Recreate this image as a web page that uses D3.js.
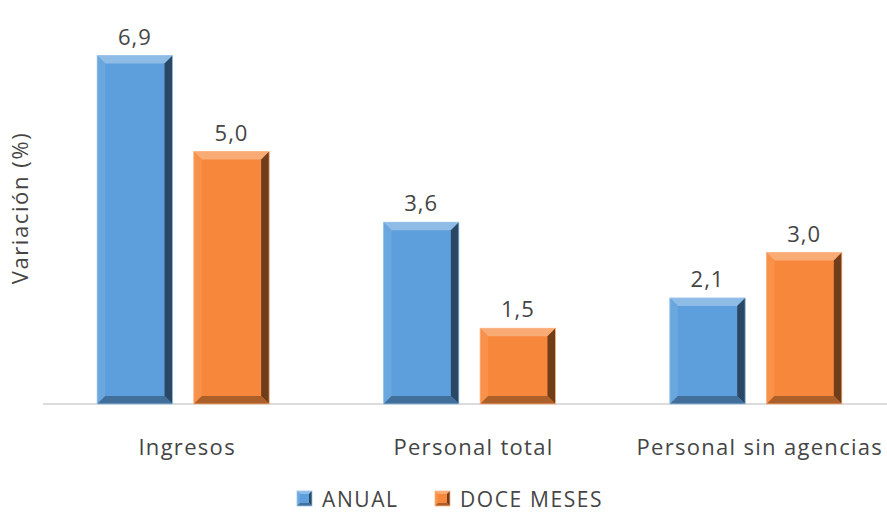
<!DOCTYPE html>
<html>
<head>
<meta charset="utf-8">
<script src="https://cdn.jsdelivr.net/npm/d3@7"></script>
<style>
  body { margin: 0; background: #fff; }
  text { font-family: "Open Sans", Lato, sans-serif; fill: #454545; }
</style>
</head>
<body>
<div id="chart"></div>
<script>
// chart data
var categories = ["Ingresos", "Personal total", "Personal sin agencias"];
var seriesNames = ["ANUAL", "DOCE MESES"];
var anual = [6.9, 3.6, 2.1];
var doceMeses = [5.0, 1.5, 3.0];
var colors = ["#5d9fdc", "#f7873a"];

var width = 887, height = 513;
var margin = {top: 25, right: 0, bottom: 109, left: 40};

var svg = d3.select("#chart").append("svg")
  .attr("width", width)
  .attr("height", height);

var x0 = d3.scaleBand()
  .domain(categories)
  .range([margin.left, 899])
  .paddingInner(0)
  .paddingOuter(0);

var x1 = d3.scaleBand()
  .domain(seriesNames)
  .range([0, 172])
  .paddingInner(0.22);

var y = d3.scaleLinear()
  .domain([0, 7.5])
  .range([404, 404 - 7.5 * 50.5]);

// axis line
svg.append("line")
  .attr("x1", 43).attr("x2", 887)
  .attr("y1", y(0)).attr("y2", y(0))
  .attr("stroke", "#d0d0d0").attr("stroke-width", 1.5);

var rows = [];
categories.forEach(function(c, i) {
  rows.push({cat: c, s: seriesNames[0], v: anual[i], color: colors[0]});
  rows.push({cat: c, s: seriesNames[1], v: doceMeses[i], color: colors[1]});
});

// beveled bar drawing
function bevel(g, x, yT, w, h, color, b) {
  var light = d3.interpolateRgb(color, "#ffffff")(0.3);
  var lightSide = d3.interpolateRgb(color, "#ffffff")(0.08);
  var dark = d3.interpolateRgb(color, "#000000")(0.55);
  var darkBottom = d3.interpolateRgb(color, "#000000")(0.3);
  var bt = Math.min(b, h / 2);
  g.append("rect").attr("x", x).attr("y", yT).attr("width", w).attr("height", h).attr("fill", color);
  // top
  g.append("polygon")
    .attr("points", [[x, yT], [x + w, yT], [x + w - b, yT + bt], [x + b, yT + bt]].join(" "))
    .attr("fill", light);
  // left
  g.append("polygon")
    .attr("points", [[x, yT], [x + b, yT + bt], [x + b, yT + h - bt], [x, yT + h]].join(" "))
    .attr("fill", lightSide);
  // right
  g.append("polygon")
    .attr("points", [[x + w, yT], [x + w, yT + h], [x + w - b, yT + h - bt], [x + w - b, yT + bt]].join(" "))
    .attr("fill", dark);
  // bottom
  g.append("polygon")
    .attr("points", [[x, yT + h], [x + w, yT + h], [x + w - b, yT + h - bt], [x + b, yT + h - bt]].join(" "))
    .attr("fill", darkBottom);
  g.append("rect").attr("x", x).attr("y", yT).attr("width", w).attr("height", h)
    .attr("fill", "none").attr("stroke", d3.interpolateRgb(color, "#ffffff")(0.4)).attr("stroke-width", 0.8);
}

var barG = svg.append("g");
rows.forEach(function(d) {
  var bx = x0(d.cat) + (x0.bandwidth() - 172) / 2 + x1(d.s);
  var g = barG.append("g");
  bevel(g, bx, y(d.v), x1.bandwidth(), y(0) - y(d.v), d.color, 8);
  svg.append("text")
    .attr("x", bx + x1.bandwidth() / 2)
    .attr("y", y(d.v) - 11)
    .attr("text-anchor", "middle")
    .attr("font-size", 22)
    .attr("letter-spacing", 1)
    .text(d3.format(".1f")(d.v).replace(".", ","));
});

// category labels
svg.append("g").selectAll("text")
  .data(categories)
  .enter().append("text")
  .attr("x", function(d) { return x0(d) + x0.bandwidth() / 2 + 4; })
  .attr("y", 455)
  .attr("text-anchor", "middle")
  .attr("font-size", 22)
  .attr("letter-spacing", 1.3)
  .text(function(d) { return d; });

// y title
svg.append("text")
  .attr("transform", "translate(28,208) rotate(-90)")
  .attr("text-anchor", "middle")
  .attr("font-size", 22)
  .attr("letter-spacing", 1.6)
  .text("Variación (%)");

// legend
var legend = svg.append("g");
var legendX = [297, 435];
seriesNames.forEach(function(s, i) {
  var lg = legend.append("g");
  bevel(lg, legendX[i], 491, 15, 15, colors[i], 3);
  lg.append("text")
    .attr("x", legendX[i] + 25)
    .attr("y", 507)
    .attr("font-size", 21)
    .attr("letter-spacing", 1.6)
    .text(s);
});
</script>
</body>
</html>
